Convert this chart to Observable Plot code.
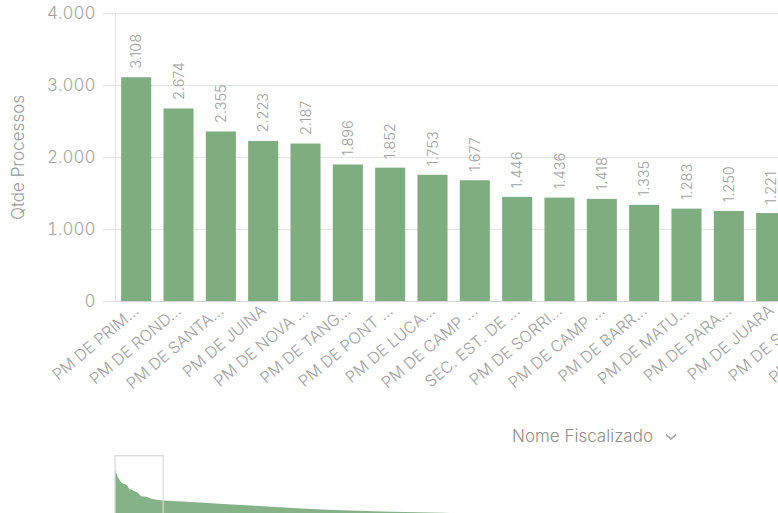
<!DOCTYPE html>
<html><head><meta charset="utf-8">
<script src="https://cdn.jsdelivr.net/npm/d3@7"></script>
<script src="https://cdn.jsdelivr.net/npm/@observablehq/plot@0.6"></script>
<style>
html,body{margin:0;padding:0;overflow:hidden;background:#fff;width:778px;height:513px;}
body{font-family:Inter,"Noto Sans",sans-serif;position:relative}
#main{position:absolute;left:0;top:0;width:877px}
#mini{position:absolute;left:0;top:457px}
#main svg,#mini svg{max-width:none !important}
#dim{position:absolute;left:512px;top:426px;font-size:17px;line-height:20px;color:#8f8f8f;font-weight:300;white-space:nowrap}
#dim svg{margin-left:12px;vertical-align:middle}
</style></head><body>
<div id="main"></div>
<div id="dim"></div>
<div id="mini"></div>
<script>
// ---- data ----
const categories = ["PM DE PRIM...", "PM DE ROND...", "PM DE SANTA...", "PM DE JUINA", "PM DE NOVA ...",
  "PM DE TANG...", "PM DE PONT ...", "PM DE LUCA...", "PM DE CAMP ...", "SEC. EST. DE ...",
  "PM DE SORRI...", "PM DE CAMP ...", "PM DE BARR...", "PM DE MATU...", "PM DE PARA...",
  "PM DE JUARA", "PM DE SAPE...", "PM DE CACE..."];
const values = [3108, 2674, 2355, 2223, 2187, 1896, 1852, 1753, 1677, 1446, 1436, 1418, 1335, 1283, 1250, 1221, 1205, 1190];
const yTicks = [0, 1000, 2000, 3000, 4000];
const yLabel = "Qtde Processos";
const dimensionLabel = "Nome Fiscalizado";
// overview (data zoom shadow)
const overviewIndex = [0,1,2,3,4,5,6,7,8,9,10,11,12,13,14,15,16,17,25,39,50,63,76,96,114,122];
const overviewValues = [3108,2674,2355,2223,2187,1896,1852,1753,1677,1446,1436,1418,1335,1283,1250,1221,1205,1190,1100,943,836,691,584,477,407,363];
const overviewDomain = [363, 3108];
const overviewCount = 230;
const zoomWindow = [0, 16.7];

// ---- helpers ----
const ptBR = d3.formatLocale({decimal: ",", thousands: ".", grouping: [3], currency: ["R$", ""]});
const fmt = ptBR.format(",d");
const green = "#7eae80";
const gridColor = "#e3e3e3";
const textColor = "#a2a2a2";

const rows = categories.map((name, i) => ({i, name, value: values[i]}));

const yAxisLine = (index, scales, values, dims) => {
  const l = document.createElementNS("http://www.w3.org/2000/svg", "line");
  l.setAttribute("x1", dims.marginLeft + 0.5);
  l.setAttribute("x2", dims.marginLeft + 0.5);
  l.setAttribute("y1", dims.marginTop);
  l.setAttribute("y2", dims.height - dims.marginBottom);
  l.setAttribute("stroke", gridColor);
  return l;
};

const main = Plot.plot({
  width: 877,
  height: 420,
  marginLeft: 115,
  marginRight: 0,
  marginTop: 13,
  marginBottom: 119,
  style: {fontFamily: "Inter, 'Noto Sans', sans-serif", fontWeight: 300, background: "transparent", overflow: "visible", maxWidth: "none"},
  x: {type: "band", domain: rows.map(d => d.i), paddingInner: 0.29, paddingOuter: 0.145, round: false},
  y: {domain: [0, 4000]},
  marks: [
    Plot.gridY(yTicks, {stroke: gridColor, strokeOpacity: 1}),
    Plot.axisY({ticks: yTicks, tickSize: 12, tickPadding: 8, stroke: gridColor, fill: textColor,
      tickFormat: fmt, fontSize: 17, label: null}),
    yAxisLine,
    Plot.barY(rows, {x: "i", y: "value", fill: green}),
    Plot.ruleY([0], {stroke: "#d4d4d4"}),
    Plot.text(rows, {x: "i", y: "value", text: d => fmt(d.value), rotate: -90, textAnchor: "start",
      dy: -9, fill: textColor, fontSize: 14.5}),
    Plot.axisX({tickSize: 0, tickRotate: -40, tickPadding: 7, tickFormat: i => categories[i],
      fill: textColor, fontSize: 16, label: null}),
    Plot.text([yLabel], {text: d => d, frameAnchor: "left", textAnchor: "middle", dx: -97, rotate: -90, fill: "#9a9a9a", fontSize: 17})
  ]
});
document.getElementById("main").appendChild(main);

// dimension selector
const dim = document.getElementById("dim");
dim.textContent = dimensionLabel;
const ns = "http://www.w3.org/2000/svg";
const chev = document.createElementNS(ns, "svg");
chev.setAttribute("width", "12"); chev.setAttribute("height", "8");
const p = document.createElementNS(ns, "polyline");
p.setAttribute("points", "1,1.5 6,6 11,1.5");
p.setAttribute("fill", "none"); p.setAttribute("stroke", "#9a9a9a"); p.setAttribute("stroke-width", "1.4");
chev.appendChild(p); dim.appendChild(chev);

// overview / data zoom
const ov = overviewIndex.map((i, k) => ({i, v: overviewValues[k]}));
const mini = Plot.plot({
  width: 778,
  height: 62,
  marginLeft: 115,
  marginRight: 0,
  marginTop: 0,
  marginBottom: 0,
  style: {background: "transparent", overflow: "visible", maxWidth: "none"},
  x: {domain: [0, overviewCount], axis: null},
  y: {domain: overviewDomain, range: [56.5, 13], axis: null},
  marks: [
    Plot.areaY(ov, {x: "i", y1: overviewDomain[0], y2: "v", fill: green, fillOpacity: 0.95}),
    Plot.rect([zoomWindow], {x1: d => d[0], x2: d => d[1], y1: overviewDomain[0] - 500, y2: overviewDomain[1] + 900,
      fill: "none", stroke: "#d9d9d9", strokeWidth: 1.2})
  ]
});
document.getElementById("mini").appendChild(mini);
</script>
</body></html>
